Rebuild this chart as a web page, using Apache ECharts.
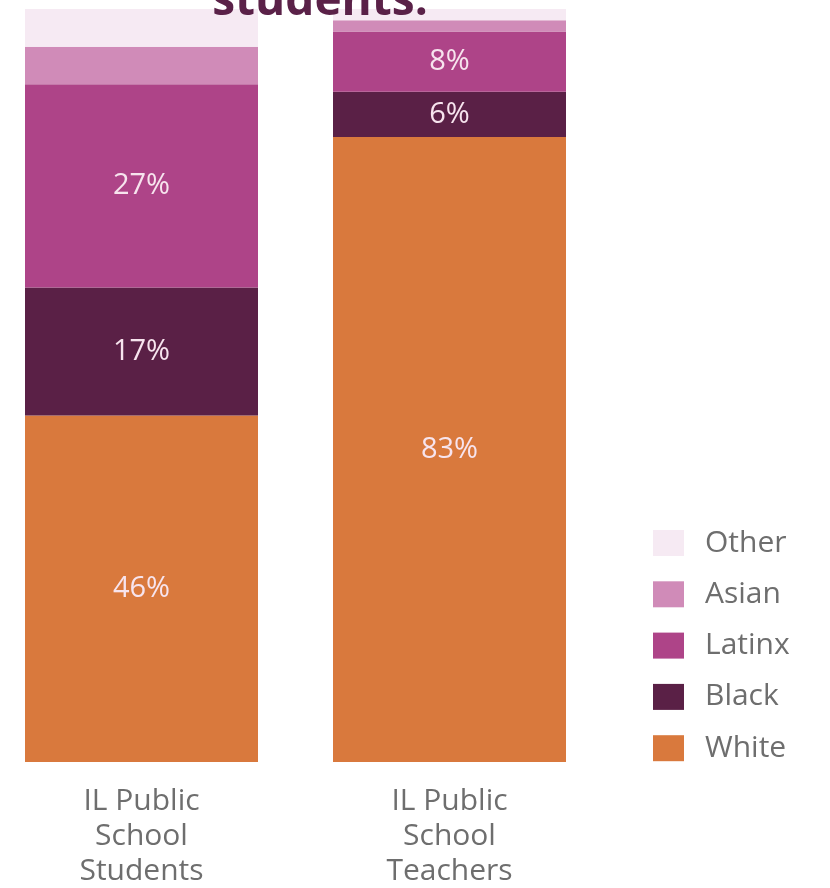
<!DOCTYPE html>
<html>
<head>
  <meta charset="UTF-8">
  <script src="https://cdn.jsdelivr.net/npm/echarts@6/dist/echarts.min.js"></script>
  <style>
    html, body { margin: 0; padding: 0; background: #fff; }
    #chart { width: 830px; height: 888px; }
  </style>
</head>
<body>
  <div id="chart"></div>
  <script>
    var categories = ['IL Public\nSchool\nStudents', 'IL Public\nSchool\nTeachers'];
    var groups = ['White', 'Black', 'Latinx', 'Asian', 'Other'];
    var white = [46, 83];
    var black = [17, 6];
    var latinx = [27, 8];
    var asian = [5, 1.5];
    var other = [5, 1.5];
    var showLabel = [true, true, true, false, false];
    var colors = ['#d9793d', '#5a2046', '#ae4488', '#d08bb8', '#f6eaf3'];

    var values = [white, black, latinx, asian, other];
    var series = groups.map(function (name, i) {
      return {
        name: name,
        type: 'bar',
        stack: 'all',
        barWidth: 233,
        data: values[i],
        itemStyle: { color: colors[i] },
        label: {
          show: showLabel[i],
          position: 'inside',
          formatter: '{c}%',
          color: '#f7e4ee',
          fontFamily: 'Open Sans',
          fontSize: 29
        }
      };
    });

    var chart = echarts.init(document.getElementById('chart'));
    chart.setOption({
      backgroundColor: '#fff',
      animation: false,
      title: {
        text: 'students.',
        left: 315,
        textAlign: 'center',
        top: -26,
        textStyle: { color: '#5a2148', fontFamily: 'Open Sans', fontWeight: 'bold', fontSize: 46 }
      },
      legend: {
        orient: 'vertical',
        left: 648,
        top: 523,
        itemWidth: 31,
        itemHeight: 26,
        itemGap: 21.3,
        icon: 'rect',
        data: ['Other', 'Asian', 'Latinx', 'Black', 'White'],
        textStyle: { color: '#6e6e6e', fontFamily: 'Open Sans', fontSize: 30, lineHeight: 26, padding: [0, 0, 0, 16] }
      },
      grid: { left: -12.5, width: 616, top: 9, bottom: 126, outerBoundsMode: 'none' },
      xAxis: {
        type: 'category',
        data: categories,
        axisLine: { show: false },
        axisTick: { show: false },
        axisLabel: {
          color: '#6e6e6e',
          fontFamily: 'Open Sans',
          fontSize: 30,
          lineHeight: 35,
          margin: 22
        }
      },
      yAxis: { type: 'value', min: 0, max: 100, show: false },
      series: series
    });
  </script>
</body>
</html>
